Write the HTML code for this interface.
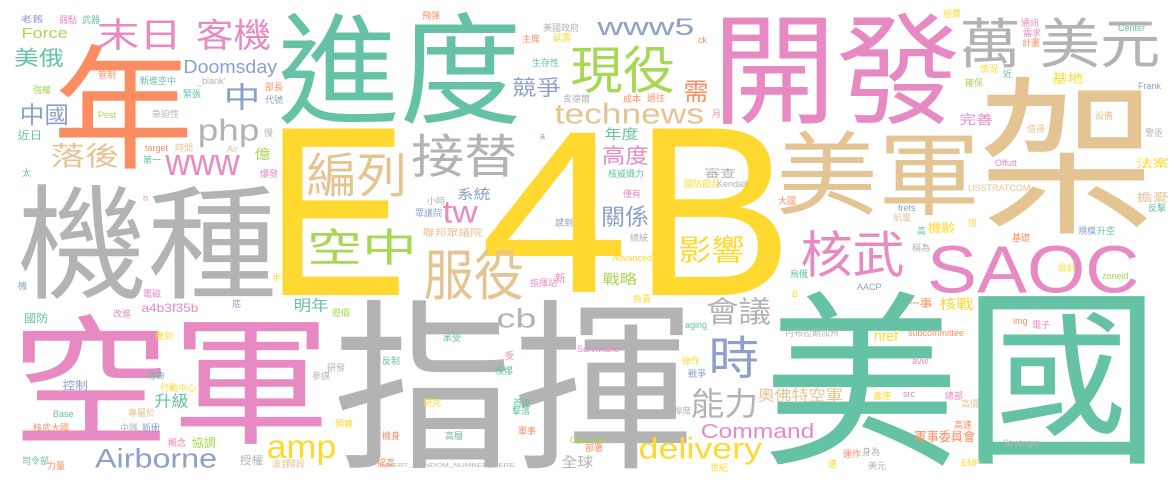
<!DOCTYPE html>
<html><head><meta charset="utf-8">
<style>
html,body{margin:0;padding:0;background:#fff;}
#cloud{display:block;width:1175px;height:482px;background:#fff;}
text{font-family:"Liberation Sans","Noto Sans CJK TC",sans-serif;}
</style></head>
<body>
<svg id="cloud" width="1175" height="482" xmlns="http://www.w3.org/2000/svg"></svg>
<script>
// Word cloud data: words, colours, ink bounding boxes
const G="#66c2a5",O="#fc8d62",B="#8da0cb",P="#e78ac3",L="#a6d854",Y="#ffd92f",T="#e5c494",R="#b3b3b3";
const bigWords=[
["E",Y,282,128,400,295],["4",Y,485,130,622,292],["B",Y,652,128,782,295],
["機種",R,20,183,273,300],["空軍",P,22,312,323,445],["指揮",R,337,298,687,470],
["美",G,770,290,950,467],["國",G,978,295,1145,465],["進度",G,280,12,518,125],
["開發",P,722,12,957,125],["架",T,983,75,1148,235],["年",O,58,43,188,170],
["美軍",T,780,130,975,215],["SAOC",P,930,245,1137,293],["萬",R,963,17,1017,68],
["美元",R,1042,17,1158,68],["末日",P,98,18,175,50],["客機",P,197,18,270,50],
["現役",L,572,45,673,93],["接替",R,412,133,515,177],["編列",T,308,152,403,197],
["空中",L,311,228,412,265],["服役",T,425,248,522,300],["核武",P,802,230,903,277],
["影響",Y,680,235,743,263],["時",B,712,335,757,378],["會議",R,707,297,770,325],
["能力",R,692,388,755,418],["奧佛特空軍",T,758,388,842,402],["軍事委員會",O,915,430,975,442],
["中",B,227,83,257,110],["中國",B,22,103,67,125],["美俄",G,15,48,63,67],
["落後",T,52,143,118,168],["關係",B,603,205,648,227],["高度",P,603,145,648,165],
["年度",G,605,127,638,140],["競爭",B,513,77,560,97],["需",O,685,80,707,102],
["系統",B,458,187,490,200],["億",L,255,147,270,160],["完善",P,960,113,992,125],
["基地",Y,1052,72,1083,83],["戰略",L,603,272,637,285],["明年",G,295,298,328,312],
["國防",G,25,313,48,323],["控制",B,63,380,87,390],["升級",G,155,393,188,408],
["協調",L,192,437,215,448],["授權",R,240,455,263,465],["全球",R,562,455,593,468],
["核戰",Y,940,297,973,310],["一事",O,907,298,932,308],["機齡",Y,928,222,955,233],
["法案",Y,1137,158,1168,168],["擔憂",T,1137,192,1168,202],["審查",R,705,168,735,178],
["新",P,555,273,565,283],["聯邦眾議院",T,423,228,482,237],["近日",G,18,130,40,140],
["老舊",B,21,15,43,23],
["www5",B,597,18,693,35],["technews",T,555,103,703,124],["php",R,200,118,258,147],
["www",P,165,155,240,175],["tw",P,443,202,478,223],["cb",R,498,308,535,328],
["amp",Y,268,440,335,465],["Airborne",B,95,448,216,468],["delivery",Y,640,437,762,465],
["Command",P,702,423,813,438],["Doomsday",B,185,60,277,77],["Force",L,23,28,67,38],
["a4b3f35b",P,142,303,198,312],["href",Y,875,330,898,341],
["INSERT_RANDOM_NUMBER_HERE",R,380,463,515,468]
];
const smallWords=[
["弱點",P,59,19],["武器",G,82,19],["管制",O,98,74],["新進空中",G,140,80],["_blank'",R,197,80],
["強權",L,33,89],["緊張",G,183,93],["部長",O,265,86],["代號",B,265,99],["Post",L,98,114],
["急迫性",R,152,113],["慢",R,264,132],["target",O,145,147],["時間",T,175,147],["Air",T,227,148],
["第一",G,143,159],["爆發",P,260,173],["太",G,22,172],["n",P,143,197],
["飛彈",O,422,15],["主席",O,522,38],["延壽",Y,553,37],["生存性",G,532,62],["肯德爾",R,563,98],
["成本",O,623,98],["過往",O,647,97],["a",B,540,135],["核威懾力",G,608,173],["小時",R,427,200],
["眾議院",B,415,212],["感到",B,555,222],["僅有",P,623,193],["美國政府",R,543,27],["ck",O,698,39],
["經費",Y,943,13],["通訊",P,1021,22],["需求",P,1023,32],["計畫",O,1022,42],["Center",G,1118,27],
["情況",Y,980,68],["近",G,1003,73],["確保",L,965,82],["Frank",B,1138,85],["月",P,712,113],
["設備",T,1095,115],["值得",T,1027,128],["警丞",R,1145,132],["Offutt",P,995,162],
["USSTRATCOM",T,968,187],["大國",O,778,200],["frets",B,898,207],["航電",T,893,217],["高",G,917,230],
["恆",Y,968,222],["反擊",G,1148,207],["規模",B,1078,230],["升空",G,1097,230],["基礎",O,1012,237],
["國防部長",Y,684,183],["Kendall",R,717,183],["總統",R,630,237],["Advanced",Y,612,257],
["指揮站",P,530,282],["負責",Y,633,298],["Survivable",P,577,348],["受",P,505,355],["核爆",G,495,370],
["Operation",L,570,439],["部署",O,585,447],["軍事",O,518,430],["擊落",G,512,410],["首度",G,513,402],
["稱為",R,912,247],["設計",Y,1058,267],["zoneid",L,1102,275],["烏俄",G,790,273],["AACP",B,857,286],
["B",Y,792,293],["aging",G,685,324],["內布拉斯加州",R,785,332],["subcommittee",O,908,332],
["img",O,1013,320],["電子",P,1032,324],["操作",Y,682,360],["戰爭",B,688,373],["avw",P,912,360],
["聯席",R,673,410],["書速",Y,873,395],["src",P,903,393],["總部",P,945,395],["高價",T,961,403],
["高速",O,954,424],["Strategic",R,1003,442],["運作",O,843,453],["身為",R,862,451],["世紀",Y,710,467],
["速",Y,828,463],["美元",R,868,465],["EMP",Y,961,462],
["機",B,18,285],["電磁",P,143,293],["底",B,232,303],["改進",P,113,313],["遊價",L,332,312],
["擔到",Y,155,335],["承受",G,443,337],["反制",G,382,360],["研發",R,327,367],["參謀",R,312,375],
["待命",G,147,375],["行動中心",Y,160,387],["研究",Y,423,402],["Base",G,53,413],["專屬於",T,128,412],
["核武大國",O,33,427],["中隊",R,120,427],["脈衝",B,142,427],["預算",Y,335,423],["機身",O,382,435],
["高層",G,445,435],["概念",P,168,442],["司令部",G,22,460],["力量",O,47,465],["波音",T,272,463],
["階段",T,287,463],["提高",O,377,462],["半",Y,272,277]
];
const FONT='"Liberation Sans","Noto Sans CJK TC",sans-serif';
const svg=document.getElementById('cloud');
const ctx=document.createElement('canvas').getContext('2d');
ctx.font='100px '+FONT;
const NS='http://www.w3.org/2000/svg';
function slug(s,i){return 'word-'+i;}
bigWords.forEach(function(w,i){
  const m=ctx.measureText(w[0]);
  const A=m.actualBoundingBoxAscent,D=m.actualBoundingBoxDescent;
  const Lb=m.actualBoundingBoxLeft,Rb=m.actualBoundingBoxRight;
  const s=100*(w[5]-w[3])/(A+D);
  const inkW=(Lb+Rb)*s/100;
  const kx=(w[4]-w[2])/inkW;
  const bx=w[2]+Lb*s/100*kx, by=w[3]+A*s/100;
  const t=document.createElementNS(NS,'text');
  
  
  t.setAttribute('font-size',s.toFixed(2));
  t.setAttribute('fill',w[1]);
  t.setAttribute('transform','translate('+bx.toFixed(2)+','+by.toFixed(2)+') scale('+kx.toFixed(4)+',1)');
  t.textContent=w[0];
  svg.appendChild(t);
});
smallWords.forEach(function(w,i){
  const s=9;
  const t=document.createElementNS(NS,'text');
  
  
  t.setAttribute('font-size',s);
  t.setAttribute('fill',w[1]);
  t.setAttribute('x',w[2]);
  t.setAttribute('y',w[3]+4);
  t.textContent=w[0];
  svg.appendChild(t);
});
</script>
</body></html>
